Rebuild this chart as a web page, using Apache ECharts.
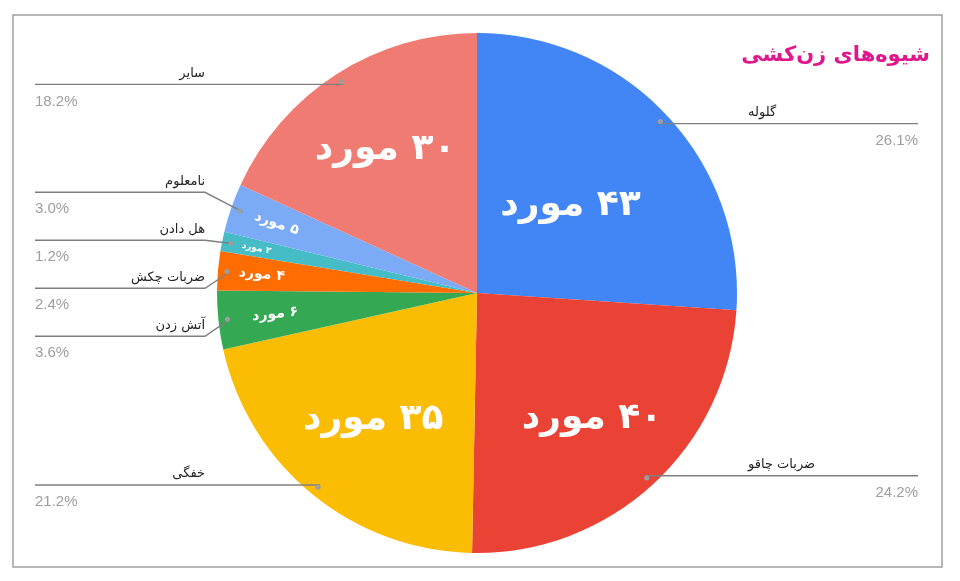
<!DOCTYPE html>
<html>
<head>
<meta charset="utf-8">
<script src="https://cdn.jsdelivr.net/npm/echarts@6/dist/echarts.min.js"></script>
<style>
    html, body { margin: 0; padding: 0; background: #fff; }
    #main { width: 960px; height: 581px; }
</style>
</head>
<body>
<div id="main"></div>
<script>
// داده‌ها
var chartTitle = 'شیوه\u200cهای زن\u200cکشی';
var categories = ['گلوله', 'ضربات چاقو', 'خفگی', 'آتش زدن', 'ضربات چکش', 'هل دادن', 'نامعلوم', 'سایر'];
var counts = [43, 40, 35, 6, 4, 2, 5, 30];
var unitWord = 'مورد';

// رنگ‌ها و چیدمان
var colors = ['#4285f4', '#ea4335', '#fbbc04', '#34a853', '#ff6d01', '#46bdc6', '#7baaf7', '#f07b72'];
var innerLabelDist = [128, 170, 164, 203, 216, 225, 212, 170];
var pieCenter = [477, 293];
var pieRadius = 260;
var dotRadius = 248;

var total = counts.reduce(function (a, b) { return a + b; }, 0);

function toFa(n) {
    return String(n).replace(/[0-9]/g, function (d) {
        return String.fromCharCode(0x06F0 + Number(d));
    });
}

// سمت برچسب بیرونی (ساعتگرد از بالا)
function onLeftSide(i) {
    var before = 0;
    for (var k = 0; k < i; k++) before += counts[k];
    return (before + counts[i] / 2) / total > 0.5;
}

var myChart = echarts.init(document.getElementById('main'));

var sliceData = categories.map(function (name, i) {
    var small = counts[i] < 10;
    return {
        name: name,
        value: counts[i],
        itemStyle: { color: colors[i] },
        label: {
            fontSize: counts[i] < 3 ? 9 : (small ? 14 : 36),
            rotate: small ? 'radial' : 0
        }
    };
});

var outerData = categories.map(function (name, i) {
    return {
        name: name,
        value: counts[i],
        labelLine: { length: counts[i] < 10 ? 60 : 0, length2: 10 }
    };
});

var dotData = categories.map(function (name, i) {
    return { name: name, value: counts[i] };
});

var option = {
    animation: false,
    title: {
        text: chartTitle,
        right: 25,
        top: 40,
        textStyle: {
            color: '#e0168c',
            fontSize: 21,
            fontWeight: 'bold',
            fontFamily: 'DejaVu Sans'
        }
    },
    graphic: [{
        type: 'rect',
        silent: true,
        z: -10,
        shape: { x: 13, y: 15, width: 929, height: 552 },
        style: { fill: 'none', stroke: '#a0a0a0', lineWidth: 1.5 }
    }],
    series: [
        {
            // برش‌های رنگی و برچسب تعداد
            name: 'slices',
            type: 'pie',
            z: 2,
            center: pieCenter,
            radius: pieRadius,
            startAngle: 90,
            silent: true,
            itemStyle: { borderWidth: 0 },
            label: {
                position: 'inside',
                color: '#fff',
                fontWeight: 'bold',
                fontFamily: 'DejaVu Sans',
                formatter: function (p) {
                    // RLM so the Persian digits sit on the right
                    return '\u200F' + toFa(p.value) + ' ' + unitWord;
                }
            },
            labelLine: { show: false },
            labelLayout: function (p) {
                var r = p.labelRect;
                var dx = r.x + r.width / 2 - pieCenter[0];
                var dy = r.y + r.height / 2 - pieCenter[1];
                var d = Math.sqrt(dx * dx + dy * dy) || 1;
                var k = innerLabelDist[p.dataIndex] / d;
                return { x: pieCenter[0] + dx * k, y: pieCenter[1] + dy * k };
            },
            data: sliceData
        },
        {
            // برچسب‌های بیرونی با خط راهنما
            name: 'labels',
            type: 'pie',
            z: 3,
            left: 0,
            width: 953,
            center: pieCenter,
            radius: dotRadius,
            startAngle: 90,
            silent: true,
            itemStyle: { color: 'rgba(0,0,0,0)' },
            label: {
                alignTo: 'edge',
                edgeDistance: 35,
                width: 170,
                minMargin: 6,
                overflow: 'none',
                fontFamily: 'Liberation Sans, DejaVu Sans, sans-serif',
                formatter: function (p) {
                    var pct = (p.value / total * 100).toFixed(1) + '%';
                    if (onLeftSide(p.dataIndex)) {
                        return '{nl|' + p.name + '}\n{pl|' + pct + '}';
                    }
                    return '{nr|' + p.name + '}\n{pr|' + pct + '}';
                },
                rich: {
                    nl: { align: 'right', fontSize: 13, color: '#222', lineHeight: 22, fontFamily: 'DejaVu Sans' },
                    nr: { align: 'left', fontSize: 13, color: '#222', lineHeight: 22, fontFamily: 'DejaVu Sans' },
                    pl: { align: 'left', fontSize: 15, color: '#9e9e9e', lineHeight: 34, fontFamily: 'Liberation Sans' },
                    pr: { align: 'right', fontSize: 15, color: '#9e9e9e', lineHeight: 34, fontFamily: 'Liberation Sans' }
                }
            },
            labelLine: {
                show: true,
                lineStyle: { color: '#7f7f7f', width: 1.4 }
            },
            labelLayout: function (p) {
                var r = p.labelRect;
                var pts = p.labelLinePoints;
                if (!pts) return;
                var left = r.x + r.width / 2 < pieCenter[0];
                var y = pts[2][1];
                var near = left ? r.x + r.width : r.x;
                var far = left ? r.x : r.x + r.width;
                // start the guide line on the dot ring
                var sx = pts[0][0] - pieCenter[0], sy = pts[0][1] - pieCenter[1];
                var sd = Math.sqrt(sx * sx + sy * sy) || 1;
                var start = [pieCenter[0] + sx / sd * dotRadius, pieCenter[1] + sy / sd * dotRadius];
                return {
                    y: y + 6,
                    labelLinePoints: [start, [near, y], [far, y]]
                };
            },
            data: outerData
        },
        {
            // نقطه‌ی ابتدای خط راهنما
            name: 'dots',
            type: 'pie',
            z: 4,
            center: pieCenter,
            radius: [dotRadius - 3, dotRadius + 3],
            startAngle: 90,
            silent: true,
            itemStyle: { color: 'rgba(0,0,0,0)' },
            label: {
                position: 'inside',
                formatter: '{d| }',
                rich: {
                    d: { width: 5, height: 5, lineHeight: 5, fontSize: 1, borderRadius: 2.5, backgroundColor: '#9e9e9e' }
                }
            },
            labelLine: { show: false },
            data: dotData
        }
    ]
};

myChart.setOption(option);
</script>
</body>
</html>
